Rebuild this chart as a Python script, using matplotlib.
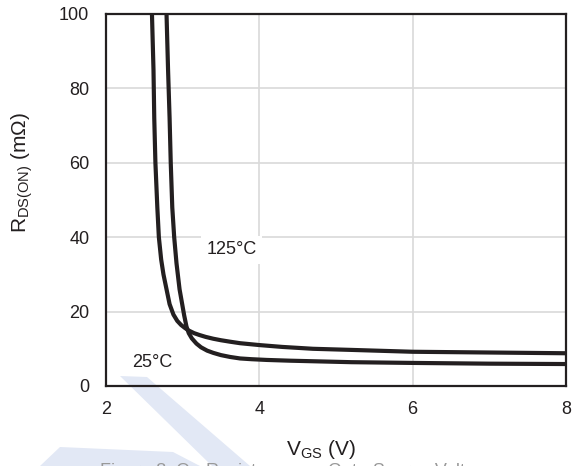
import matplotlib
matplotlib.use('Agg')
import matplotlib.pyplot as plt
from matplotlib.patches import Polygon

plt.rcParams['font.family'] = ['Liberation Sans', 'DejaVu Sans']
plt.rcParams['mathtext.fontset'] = 'custom'
plt.rcParams['mathtext.rm'] = 'Liberation Sans'

# Datos (VGS en V, RDS(on) en mOhm)
vgs_125 = [2.60, 2.62, 2.63, 2.645, 2.67, 2.69, 2.72, 2.75, 2.79, 2.83, 2.88, 2.93,
           2.98, 3.03, 3.08, 3.15, 3.22, 3.30, 3.40, 3.50, 3.62, 3.75, 4.00, 4.30,
           4.70, 5.20, 6.00, 7.00, 8.00]
rds_125 = [100, 85, 72, 60, 48, 40, 34, 30, 26, 22, 19.2, 17.5,
           16.4, 15.6, 14.9, 14.2, 13.7, 13.2, 12.7, 12.3, 11.9, 11.5, 11.0, 10.5,
           10.0, 9.7, 9.2, 9.0, 8.8]

vgs_25 = [2.79, 2.81, 2.83, 2.845, 2.865, 2.89, 2.92, 2.96, 2.99, 3.02, 3.05, 3.08,
          3.12, 3.18, 3.24, 3.32, 3.40, 3.50, 3.62, 3.75, 3.90, 4.10, 4.40, 4.80,
          5.20, 6.00, 7.00, 8.00]
rds_25 = [100, 85, 72, 60, 48, 40, 33, 26, 22.5, 19, 16, 14.2,
          12.8, 11.4, 10.4, 9.5, 8.9, 8.3, 7.8, 7.4, 7.2, 7.0, 6.8, 6.6,
          6.4, 6.2, 6.0, 5.9]

x_ticks = [2, 4, 6, 8]
y_ticks = [0, 20, 40, 60, 80, 100]

fig = plt.figure(figsize=(5.79, 4.66), dpi=100)
ax = fig.add_axes([0.183, 0.1717, 0.7945, 0.7983])
ax.set_facecolor('none')

# marca de agua (fondo)
wm = '#e2e8f5'
fig.patches.append(Polygon([(120/579, 1-376/466), (147/579, 1-377/466),
                            (250/579, 0), (212/579, 0)],
                           closed=True, transform=fig.transFigure,
                           facecolor=wm, edgecolor='none', zorder=-1))
fig.patches.append(Polygon([(60/579, 1-447/466), (173/579, 1-452/466),
                            (200/579, 0), (40/579, 0)],
                           closed=True, transform=fig.transFigure,
                           facecolor=wm, edgecolor='none', zorder=-1))

line_color = '#231f20'
ax.plot(vgs_125, rds_125, color=line_color, lw=3.0, solid_capstyle='butt')
ax.plot(vgs_25, rds_25, color=line_color, lw=3.0, solid_capstyle='butt')

ax.set_xlim(2, 8)
ax.set_ylim(0, 100)
ax.set_xticks(x_ticks)
ax.set_yticks(y_ticks)
ax.tick_params(length=0, labelsize=13, colors='#231f20')
ax.tick_params(axis='x', pad=11)
ax.tick_params(axis='y', pad=12)

for v in [4, 6]:
    ax.axvline(v, color='#d9d9d9', lw=1.2, zorder=0)
for v in [20, 40, 60, 80]:
    ax.axhline(v, color='#d9d9d9', lw=1.2, zorder=0)

for s in ax.spines.values():
    s.set_color(line_color)
    s.set_linewidth(1.6)

ax.text(3.64, 36.6, '125°C', fontsize=13, ha='center', va='center', color=line_color,
        bbox=dict(facecolor='white', edgecolor='none', pad=4))
ax.text(2.61, 6.4, '25°C', fontsize=13, ha='center', va='center', color=line_color)

ax.set_xlabel(r'V$_{\mathregular{GS}}$ (V)', fontsize=15, color=line_color, va='top')
ax.xaxis.set_label_coords(0.467, -0.14)
ax.set_ylabel(r'R$_{\mathregular{DS(ON)}}$ (mΩ)', fontsize=15, color=line_color)
ax.yaxis.set_label_coords(-0.155, 0.573)

# pie de figura (cortado en el borde inferior)
fig.text(100/579, 1-476/466, 'Figure 8. On-Resistance vs. Gate-Source Voltage',
         fontsize=13, color='#999999', ha='left', va='baseline')

fig.savefig('out.png', dpi=100)
